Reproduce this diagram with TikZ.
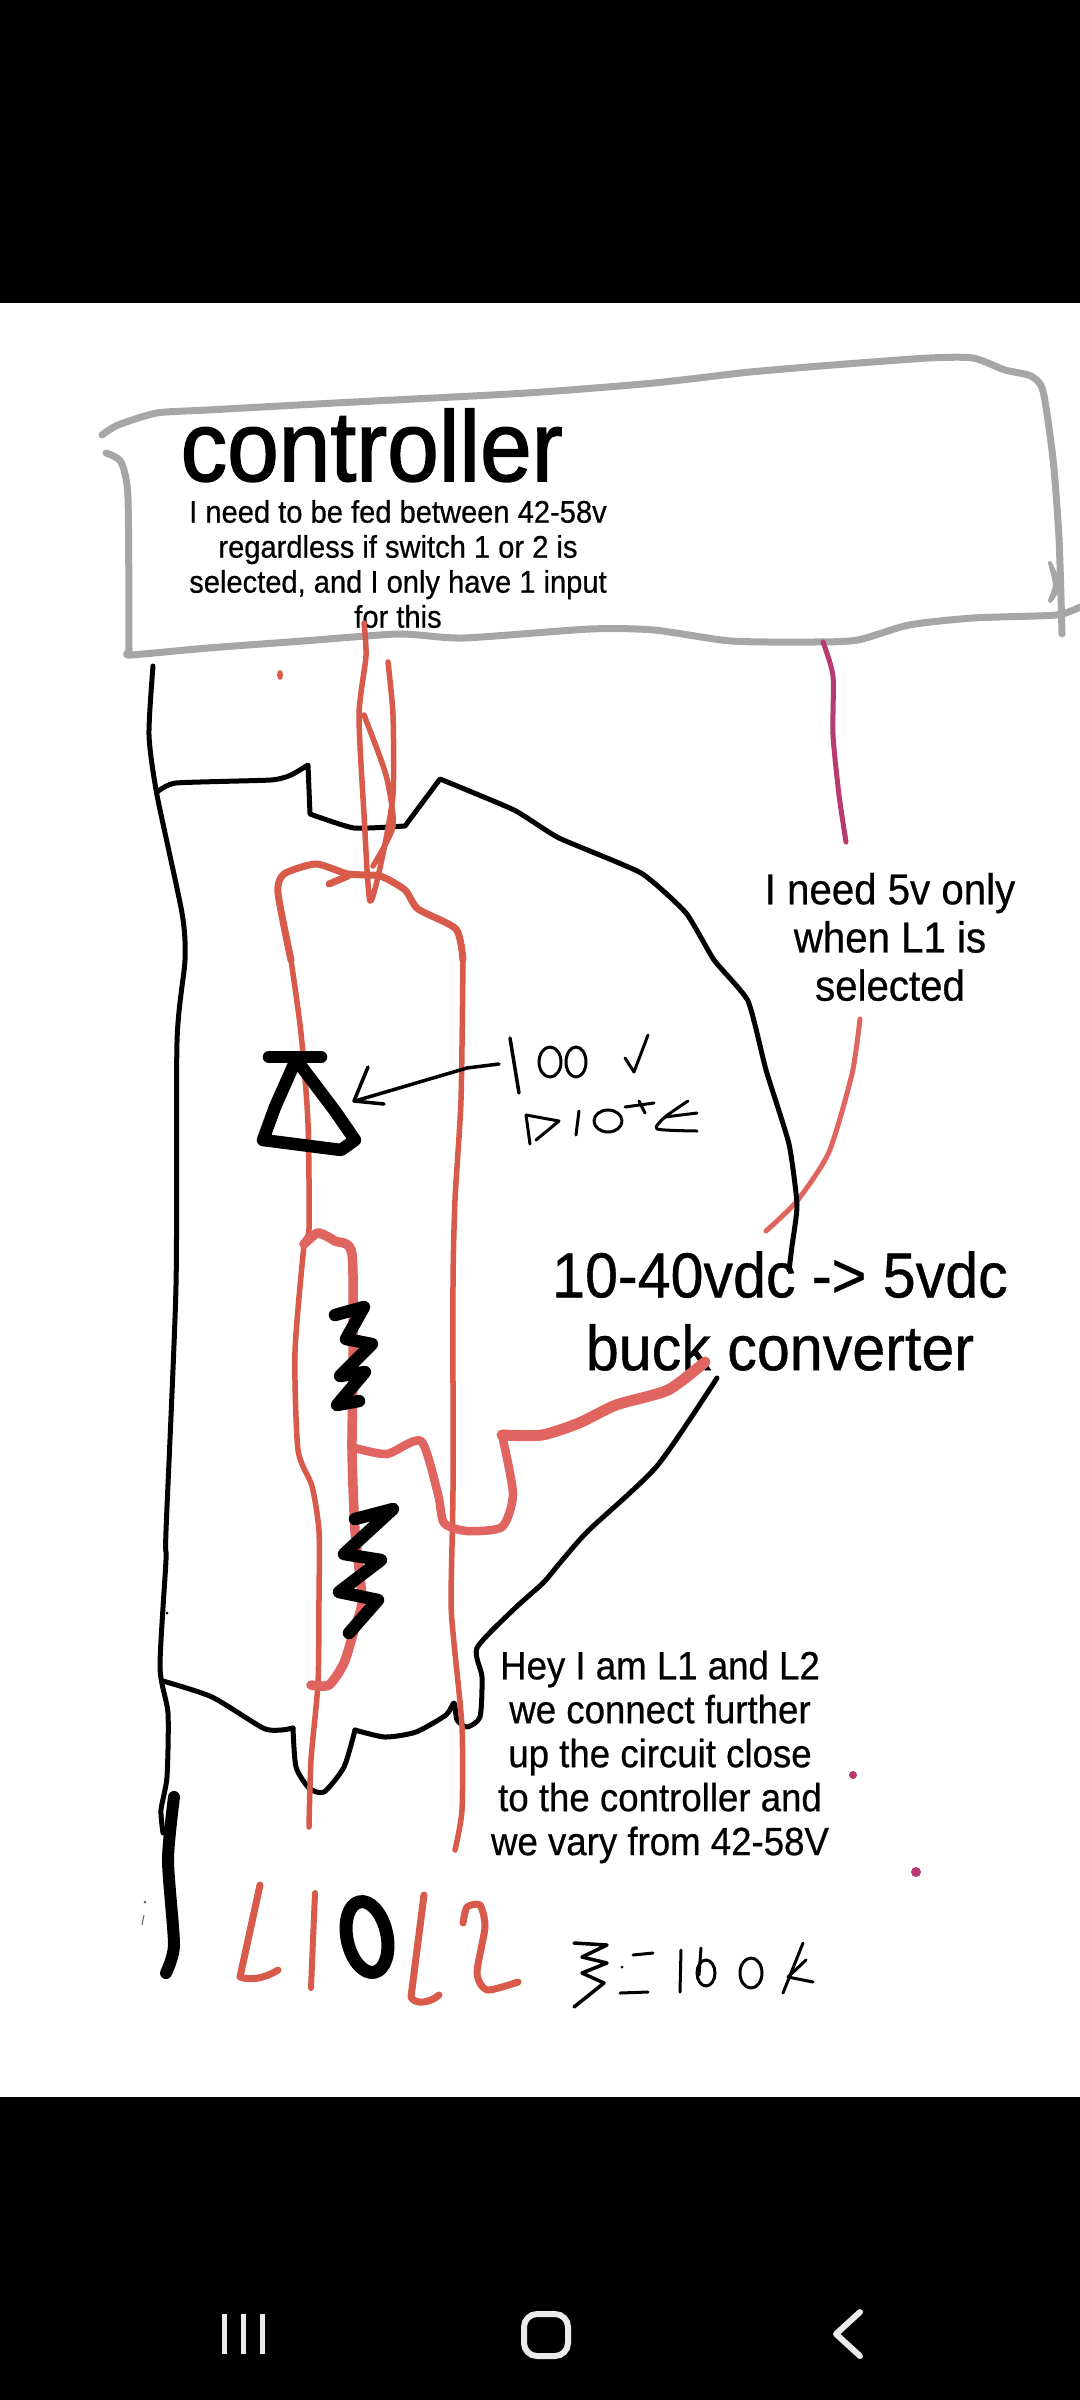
\documentclass[tikz,border=0pt]{standalone}
\usepackage{fontspec}
\setmainfont{Liberation Sans}
\newfontfamily\tfa[FakeStretch=0.93,FakeBold=0.6]{Liberation Sans}
\newfontfamily\tfb[FakeStretch=0.93,FakeBold=1.5]{Liberation Sans}
\definecolor{boxgrey}{HTML}{A6A6A6}
\definecolor{wirered}{HTML}{D85A4B}
\definecolor{palered}{HTML}{E0645F}
\definecolor{magen}{HTML}{B83A70}
\tikzset{
  pen/.style={line cap=round,line join=round},
  greyline/.style={pen,draw=boxgrey,line width=0.07cm},
  redthin/.style={pen,draw=wirered,line width=0.055cm},
  redthick/.style={pen,draw=palered,line width=0.11cm},
  blackthin/.style={pen,draw=black,line width=0.05cm},
  blackheavy/.style={pen,draw=black,line width=0.125cm},
  scribble/.style={pen,draw=black,line width=0.03cm},
  label/.style={align=center,inner sep=0pt,text=black},
}
\newcommand{\sm}[1]{plot[smooth,tension=0.4] coordinates {#1}}
\begin{document}
\begin{tikzpicture}[x=0.01cm,y=-0.01cm]
\useasboundingbox (0,0) rectangle (1080,2400);
\fill[black] (0,0) rectangle (1080,2400);
\fill[white] (0,303) rectangle (1080,2097);
% text
\node[label,anchor=base west,font=\tfb\fontsize{28.4}{30}\selectfont] (ctl) at (180,481) {controller};
\node[label,anchor=center,font=\tfa\fontsize{8.9}{9.95}\selectfont] (ctltxt) at (398,564) {I need to be fed between 42-58v\\regardless if switch 1 or 2 is\\selected, and I only have 1 input\\for this};
\node[label,anchor=center,font=\tfa\fontsize{12.3}{13.7}\selectfont] (need5) at (890,937) {I need 5v only\\when L1 is\\selected};
\node[label,anchor=center,font=\tfa\fontsize{18.1}{20.7}\selectfont] (buck) at (780,1311) {10-40vdc -> 5vdc\\buck converter};
\node[label,anchor=center,font=\tfa\fontsize{11.2}{12.5}\selectfont] (hey) at (660,1757) {Hey I am L1 and L2\\we connect further\\up the circuit close\\to the controller and\\we vary from 42-58V};
% controller box
\draw[greyline] \sm{(102,435)(118,425)(157,413)(208,410)(335,403)(527,393)(654,383)(750,372)(846,364)(929,358)(973,358)(1005,370)(1031,376)(1043,391)(1053,459)(1059,538)(1062,634)};
\draw[greyline] \sm{(106,453)(121,462)(128,498)(129,652)};
\draw[greyline] \sm{(129,652)(131,655)(208,648)(303,641)(399,634)(463,638)(590,629)(654,630)(731,641)(814,642)(858,640)(909,625)(973,618)(1056,615)(1080,607)};
\draw[greyline,line width=0.04cm] \sm{(1050,563)(1059,585)(1050,601)(1055,585)(1050,563)};
% 5V line
\draw[pen,draw=magen,line width=0.05cm] \sm{(823,642)(833,676)(833,735)(839,795)(846,842)};
\draw[palered,pen,line width=0.05cm] \sm{(860,1019)(852,1074)(829,1152)(797,1201)(766,1231)};
% black outline
\draw[blackthin] \sm{(153,666)(149,735)(157,795)(182,913)(185,960)(177,1042)(176,1286)(166,1531)(166,1560)(160,1667)(168,1713)(167,1777)(161,1810)(163,1833)};
\draw[blackthin] plot[smooth,tension=0.3] coordinates {(157,792)(176,783)(271,780)(291,775)(308,765)} -- (310,814) -- plot[smooth,tension=0.3] coordinates {(310,814)(354,828)(405,826)} -- (440,779) -- plot[smooth,tension=0.3] coordinates {(440,779)(514,810)(559,838)(641,873)(686,913)(714,960)(748,1001)(766,1070)(789,1144)(797,1205)(792,1246)(789,1270)};
\draw[blackthin] \sm{(717,1378)(657,1466)(588,1531)(559,1564)(543,1583)(513,1610)(477,1648)(482,1677)(480,1717)(467,1727)(457,1720)(454,1703)(446,1715)(416,1732)(385,1737)(355,1730)};
\draw[blackthin] \sm{(355,1730)(344,1767)(324,1792)(309,1788)(296,1767)(293,1728)};
\draw[blackthin] \sm{(293,1728)(281,1730)(263,1728)(212,1697)(163,1681)};
% red feed
\draw[redthin] \sm{(364,623)(366,656)(359,715)(364,814)(370,901)(383,854)(393,794)(393,715)(388,662)};
\draw[redthin] \sm{(364,715)(386,775)(393,826)(373,866)};
% red loop and lines
\draw[redthin,line width=0.07cm] \sm{(291,960)(278,893)(284,874)(316,864)(348,874)(380,876)(405,890)(418,909)(456,929)(463,960)};
\draw[redthin] \sm{(463,960)(461,1100)(455,1200)(453,1286)(453,1490)(451,1600)(454,1643)(462,1727)(462,1810)(455,1850)};
\draw[redthin,line width=0.07cm] (329,884) -- (348,876);
\draw[redthin] \sm{(291,960)(301,1033)(308,1123)(309,1229)(304,1246)(295,1352)(298,1450)(312,1486)(319,1531)(319,1600)(318,1683)(311,1760)(309,1827)};
\draw[pen,draw=palered,line width=0.095cm] \sm{(304,1244)(318,1233)(335,1241)(352,1254)(353,1368)(352,1450)(355,1531)(362,1600)(355,1627)(344,1663)(329,1685)(311,1685)};
\draw[pen,draw=palered,line width=0.085cm] \sm{(355,1448)(387,1454)(421,1441)(438,1494)(444,1523)(467,1531)(502,1527)(513,1494)(502,1435)};
\draw[redthick] \sm{(502,1435)(542,1435)(579,1423)(616,1405)(668,1390)(705,1362)};
% diode
\draw[blackheavy] (269,1057) -- (321,1057);
\draw[blackheavy] (295,1062) -- (275,1107) -- (263,1140) -- (341,1150) -- (355,1140) -- (335,1111) -- (301,1066);
% resistors
\draw[blackheavy] (335,1315) -- (364,1307) -- (346,1339) -- (372,1344) -- (340,1376) -- (365,1372) -- (337,1405) -- (359,1401);
\draw[blackheavy] (355,1519) -- (393,1509) -- (344,1554) -- (381,1560) -- (339,1592) -- (378,1600) -- (349,1633);
% arrow to diode
\draw[scribble,line width=0.035cm] (499,1064) -- (467,1068) -- (355,1101);
\draw[scribble,line width=0.035cm] (368,1067) -- (354,1101) -- (384,1104);
% 100 V
\draw[scribble,line width=0.035cm] (510,1038) -- (519,1093);
\draw[scribble] (550,1062) ellipse [x radius=11,y radius=15];
\draw[scribble] (576,1062) ellipse [x radius=10,y radius=15];
\draw[scribble] (625,1058) -- (634,1072) -- (648,1035);
% DIODE
\draw[scribble] (526,1115) -- (530,1144);
\draw[scribble] (526,1115) -- (559,1121) -- (536,1140);
\draw[scribble] (579,1111) -- (576,1135);
\draw[scribble] (608,1121) ellipse [x radius=14,y radius=11];
\draw[scribble] (625,1107) -- (654,1103);
\draw[scribble] (639,1101) -- (645,1113);
\draw[scribble] \sm{(688,1101)(665,1117)(657,1129)(697,1131)};
\draw[scribble] (665,1117) -- (697,1113);
% ground
\draw[pen,draw=black,line width=0.12cm] \sm{(174,1797)(168,1860)(174,1945)(166,1973)};
% L1 0 L2
\draw[pen,draw=wirered,line width=0.07cm] (260,1885) -- (240,1977) .. controls (255,1982) and (270,1975) .. (278,1970);
\draw[pen,draw=wirered,line width=0.06cm] (315,1893) -- (311,1988);
\draw[pen,draw=black,line width=0.13cm,rotate around={12:(367,1937)}] (367,1937) ellipse [x radius=20,y radius=36];
\draw[pen,draw=wirered,line width=0.07cm] (424,1895) -- (411,1997) .. controls (415,2005) and (430,2003) .. (439,1995);
\draw[pen,draw=wirered,line width=0.07cm] \sm{(463,1923)(467,1907)(480,1905)(485,1927)(477,1973)(487,1990)(518,1982)};
% legend
\draw[scribble,line width=0.035cm] (574,1943) -- (607,1945) -- (582,1957) -- (607,1963) -- (582,1973) -- (604,1983) -- (574,2007);
\draw[scribble] (633,1955) -- (653,1953);
\draw[scribble] (620,1993) -- (648,1992);
\fill (622,1967) circle (1.5);
\draw[scribble] (681,1950) -- (680,1992);
\draw[scribble] (701,1948) -- (699,1975);
\draw[scribble] (706,1973) ellipse [x radius=9,y radius=13];
\draw[scribble] (751,1973) ellipse [x radius=11,y radius=15];
\draw[scribble] (803,1943) -- (783,1993);
\draw[scribble] (806,1960) -- (788,1977) -- (813,1982);
% specks
\fill[wirered] (280,675) ellipse [x radius=3,y radius=5];
\fill[magen] (853,1775) circle (4);
\fill[magen] (916,1872) circle (5);
\fill[black] (167,1613) circle (1.5);
\fill[black!60] (145,1902) circle (1.5);
\draw[black!60,line width=0.01cm] (144,1915) -- (142,1925);
% navigation bar
\draw[pen,draw=white!92!black,line width=0.05cm,line cap=butt] (224,2314) -- (224,2354);
\draw[pen,draw=white!92!black,line width=0.05cm,line cap=butt] (243,2314) -- (243,2354);
\draw[pen,draw=white!92!black,line width=0.05cm,line cap=butt] (262,2314) -- (262,2354);
\draw[draw=white!92!black,line width=0.06cm,rounded corners=0.13cm] (524,2314) rectangle (568,2356);
\draw[pen,draw=white!92!black,line width=0.06cm] (860,2312) -- (836,2334) -- (860,2356);
\end{tikzpicture}
\end{document}
